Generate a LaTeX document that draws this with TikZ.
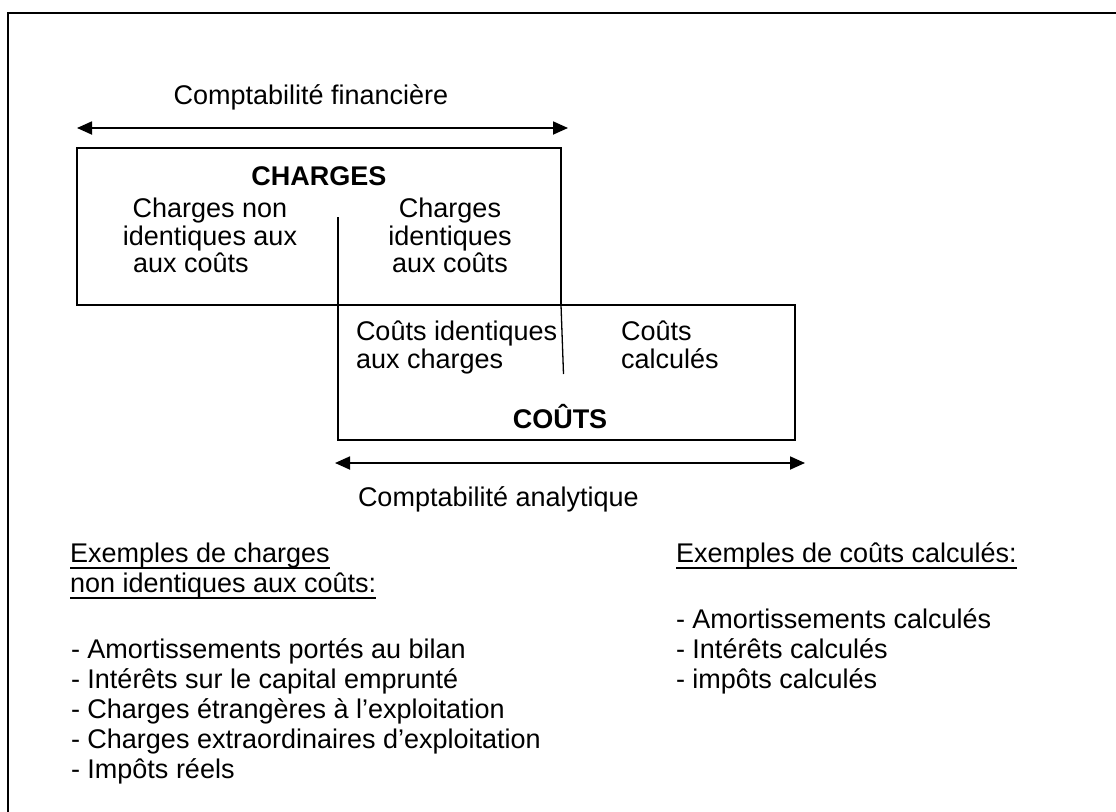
\documentclass[tikz,border=0pt]{standalone}
\usepackage{fontspec}
\setmainfont{Liberation Sans}
\usetikzlibrary{arrows.meta}
% underline with a heavier rule than \underline gives
\newcommand\ulin[1]{\setbox0=\hbox{#1}\rlap{\rule[-7.3pt]{\wd0}{2pt}}\box0}
\begin{document}
\begin{tikzpicture}[x=1pt,y=-1pt,
  txt/.style={inner sep=0pt, outer sep=0pt, font=\fontsize{27}{31}\selectfont},
  title/.style={inner sep=0pt, outer sep=0pt, font=\fontsize{27}{31}\selectfont\bfseries},
  area/.style={draw, line width=1.3pt, inner sep=0pt, outer sep=0pt},
  rule/.style={line width=1.3pt},
  span/.style={line width=1.8pt, {Triangle[length=15pt,width=13pt]}-{Triangle[length=15pt,width=13pt]}}]
\useasboundingbox (0,0) rectangle (1116,811);
\clip (0,0) rectangle (1116,811);
\fill[white] (0,0) rectangle (1116,811);
% page frame (runs past the right and bottom edges)
\draw[line width=2.3pt] (8,13) rectangle (1150,850);

% financial accounting span
\node[txt, anchor=base] (fin) at (311,104) {Comptabilité financière};
\coordinate (fa) at (77,128);
\coordinate (fb) at (568,128);
\draw[span] (fa) -- (fb);

% the two overlapping areas
\node[area, minimum width=484pt, minimum height=157pt] (chbox) at (319,226.5) {};
\node[area, minimum width=457pt, minimum height=135pt] (cobox) at (566.5,372.5) {};
\coordinate (dl) at (338,217);
\coordinate (dr) at (563.5,374);
\draw[rule] (dl) -- (cobox.north west);
\draw[rule] (chbox.south east) -- (dr);

\node[title, anchor=base] (charges) at (319,185) {CHARGES};
\node[txt, anchor=base] (cn1) at (210,217) {Charges non};
\node[txt, anchor=base] (cn2) at (210,245) {identiques aux};
\node[txt, anchor=base west] (cn3) at (133,272) {aux coûts};
\node[txt, anchor=base] (ci1) at (450,217) {Charges};
\node[txt, anchor=base] (ci2) at (450,245) {identiques};
\node[txt, anchor=base] (ci3) at (450,272) {aux coûts};

\node[txt, anchor=base west] (co1) at (356,340) {Coûts identiques};
\node[txt, anchor=base west] (co2) at (356,368) {aux charges};
\node[txt, anchor=base west] (cc1) at (621,340) {Coûts};
\node[txt, anchor=base west] (cc2) at (621,368) {calculés};
\node[title, anchor=base] (couts) at (560,428) {COÛTS};

% cost accounting span
\coordinate (aa) at (335,463);
\coordinate (ab) at (805,463);
\draw[span] (aa) -- (ab);
\node[txt, anchor=base west] (ana) at (358,506) {Comptabilité analytique};

% examples, left column
\node[txt, anchor=base west] (h1) at (70,562) {\ulin{Exemples de charges}};
\node[txt, anchor=base west] (h2) at (70,592) {\ulin{non identiques aux coûts:}};
\node[txt, anchor=base west] (l1) at (71,658) {- Amortissements portés au bilan};
\node[txt, anchor=base west] (l2) at (71,688) {- Intérêts sur le capital emprunté};
\node[txt, anchor=base west] (l3) at (71,718) {- Charges étrangères à l’exploitation};
\node[txt, anchor=base west] (l4) at (71,748) {- Charges extraordinaires d’exploitation};
\node[txt, anchor=base west] (l5) at (71,778) {- Impôts réels};

% examples, right column
\node[txt, anchor=base west] (h3) at (676,562) {\ulin{Exemples de coûts calculés:}};
\node[txt, anchor=base west] (r1) at (676,628) {- Amortissements calculés};
\node[txt, anchor=base west] (r2) at (676,658) {- Intérêts calculés};
\node[txt, anchor=base west] (r3) at (676,688) {- impôts calculés};
\end{tikzpicture}
\end{document}
